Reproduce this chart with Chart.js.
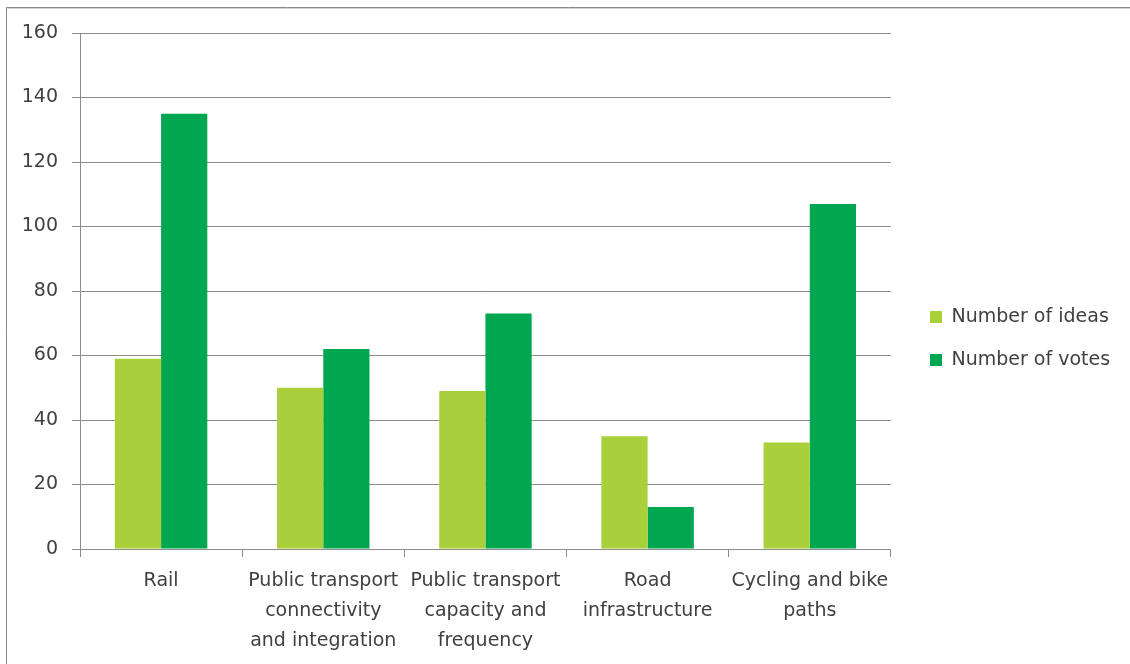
<!DOCTYPE html>
<html>
<head>
<meta charset="utf-8">
<script src="https://cdn.jsdelivr.net/npm/chart.js@4.4.1/dist/chart.umd.min.js"></script>
<style>
  html, body { margin: 0; padding: 0; background: #fff; }
  #wrap { width: 1130px; height: 664px; position: relative; }
</style>
</head>
<body>
<div id="wrap"><canvas id="c" width="1130" height="664"></canvas></div>
<script>
const categories = [
  ["Rail"],
  ["Public transport", "connectivity", "and integration"],
  ["Public transport", "capacity and", "frequency"],
  ["Road", "infrastructure"],
  ["Cycling and bike", "paths"]
];
const seriesNames = ["Number of ideas", "Number of votes"];
const ideas = [59, 50, 49, 35, 33];
const votes = [135, 62, 73, 13, 107];
const yTicks = [0, 20, 40, 60, 80, 100, 120, 140, 160];

const FONT = "'DejaVu Sans', sans-serif";
const TEXT = '#404040';
const GRID = '#8c8c8c';

const frame = {
  id: 'frame',
  beforeDraw(chart) {
    const ctx = chart.ctx;
    ctx.save();
    ctx.fillStyle = '#ffffff';
    ctx.fillRect(0, 0, chart.width, chart.height);
    ctx.strokeStyle = '#8a8a8a';
    ctx.lineWidth = 1;
    ctx.beginPath();
    ctx.moveTo(6.5, chart.height);
    ctx.lineTo(6.5, 7.5);
    ctx.lineTo(chart.width, 7.5);
    ctx.stroke();
    ctx.strokeStyle = '#d0d0d0';
    ctx.beginPath();
    ctx.moveTo(7.5, 8.5);
    ctx.lineTo(chart.width, 8.5);
    ctx.stroke();
    ctx.restore();
  },
  afterLayout(chart) {
    const lg = chart.legend;
    if (lg) {
      const shift = 930 - (lg.left + lg.options.labels.padding);
      lg.left += shift;
      lg.right += shift;
      lg.top -= 10;
      lg.bottom -= 10;
    }
  }
};

new Chart(document.getElementById('c'), {
  type: 'bar',
  data: {
    labels: categories,
    datasets: [
      { label: seriesNames[0], data: ideas, backgroundColor: '#A9D03B', borderWidth: 0 },
      { label: seriesNames[1], data: votes, backgroundColor: '#00A650', borderWidth: 0 }
    ]
  },
  options: {
    responsive: false,
    animation: false,
    devicePixelRatio: 1,
    layout: { padding: { top: 33, left: 0, right: 25, bottom: 0 } },
    datasets: { bar: { categoryPercentage: 0.57, barPercentage: 1.0 } },
    plugins: {
      legend: {
        position: 'right',
        align: 'center',
        labels: {
          boxWidth: 12, boxHeight: 12, padding: 24,
          color: TEXT,
          font: { family: FONT, size: 19 }
        }
      },
      tooltip: { enabled: false }
    },
    scales: {
      x: {
        grid: {
          display: true, drawOnChartArea: false, drawTicks: true,
          tickLength: 8, offset: true, color: GRID, lineWidth: 1
        },
        border: { display: true, color: GRID, width: 1 },
        ticks: {
          color: TEXT, maxRotation: 0, minRotation: 0, autoSkip: false, padding: 9,
          font: { family: FONT, size: 19, lineHeight: 1.58 }
        },
        afterFit(s) { s.height = 115; }
      },
      y: {
        min: 0, max: 160,
        afterBuildTicks(s) { s.ticks = yTicks.map(v => ({ value: v })); },
        grid: { color: GRID, lineWidth: 1, drawTicks: true, tickLength: 8 },
        border: { display: true, color: GRID, width: 1 },
        ticks: {
          color: TEXT, padding: 14,
          font: { family: FONT, size: 19 }
        },
        afterFit(s) { s.width = 80; }
      }
    }
  },
  plugins: [frame]
});
</script>
</body>
</html>
